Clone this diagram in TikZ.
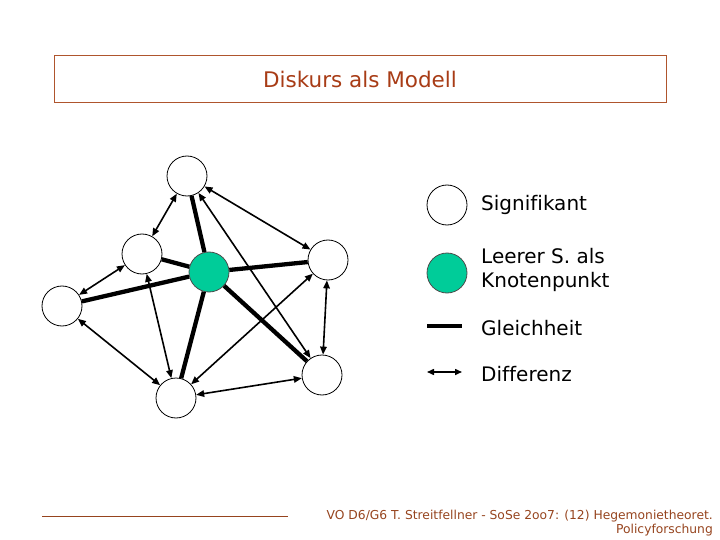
\documentclass[tikz,border=0pt]{standalone}
\usepackage{fontspec}
\setmainfont[Ligatures={NoCommon}]{DejaVu Sans}
\usetikzlibrary{arrows.meta}
\definecolor{titlered}{RGB}{168,60,22}
\definecolor{boxbrown}{RGB}{175,85,45}
\definecolor{footbrown}{RGB}{150,68,30}
\definecolor{knotgreen}{RGB}{0,204,153}
\begin{document}
\begin{tikzpicture}[x=1pt,y=-1pt,
  sig/.style={circle,draw=black,line width=0.8pt,fill=white,minimum size=40pt,inner sep=0pt},
  leer/.style={sig,fill=knotgreen,draw=black!70},
  gleich/.style={line width=4.3pt},
  diff/.style={line width=1.6pt,{Triangle[length=8pt,width=6.5pt]}-{Triangle[length=8pt,width=6.5pt]}},
  lgtext/.style={anchor=west,inner sep=0pt,font=\fontsize{20}{24}\selectfont,align=left}]
\useasboundingbox (0,0) rectangle (720,540);
% title
\draw[boxbrown,line width=0.9pt] (54,55) rectangle (666,102);
\node[text=titlered,font=\fontsize{21.5}{26}\selectfont] (title) at (360,79) {Diskurs als Modell};
% nodes
\node[sig] (T) at (187,176) {};
\node[sig] (UL) at (142,254) {};
\node[sig] (L) at (62,306) {};
\node[sig] (R) at (328,260) {};
\node[sig] (LR) at (322,375) {};
\node[sig] (B) at (176,398) {};
\node[leer] (G) at (209,272) {};
% Gleichheit
\foreach \n in {T,UL,L,R,LR,B} \draw[gleich] (G) -- (\n);
% Differenz
\draw[diff] (T) -- (UL);
\draw[diff] (T) -- (R);
\draw[diff] (T) -- (LR);
\draw[diff] (UL) -- (L);
\draw[diff] (UL) -- (B);
\draw[diff] (L) -- (B);
\draw[diff] (B) -- (LR);
\draw[diff] (B) -- (R);
\draw[diff] (R) -- (LR);
% legend
\node[sig] (ls) at (447,205) {};
\node[leer] (lg) at (447,273) {};
\coordinate (ga) at (427,326);
\coordinate (gb) at (462,326);
\draw[gleich] (ga) -- (gb);
\coordinate (da) at (427,372);
\coordinate (db) at (462,372);
\draw[line width=1.5pt,{Triangle[length=7pt,width=6pt]}-{Triangle[length=7pt,width=6pt]}] (da) -- (db);
\node[lgtext] (t1) at (481,205) {Signifikant};
\node[lgtext] (t2) at (481,270) {Leerer S. als\\Knotenpunkt};
\node[lgtext] (t3) at (481,328) {Gleichheit};
\node[lgtext] (t4) at (481,374) {Differenz};
% footer
\coordinate (fa) at (42,516);
\coordinate (fb) at (288,516);
\draw[footbrown,line width=0.8pt] (fa) -- (fb);
\node[text=footbrown,font=\fontsize{12.3}{14}\selectfont,align=right,anchor=east,inner sep=0pt] (foot) at (713,523) {VO D6/G6 T. Streitfellner - SoSe 2oo7: (12) Hegemonietheoret.\\Policyforschung};
\end{tikzpicture}
\end{document}
